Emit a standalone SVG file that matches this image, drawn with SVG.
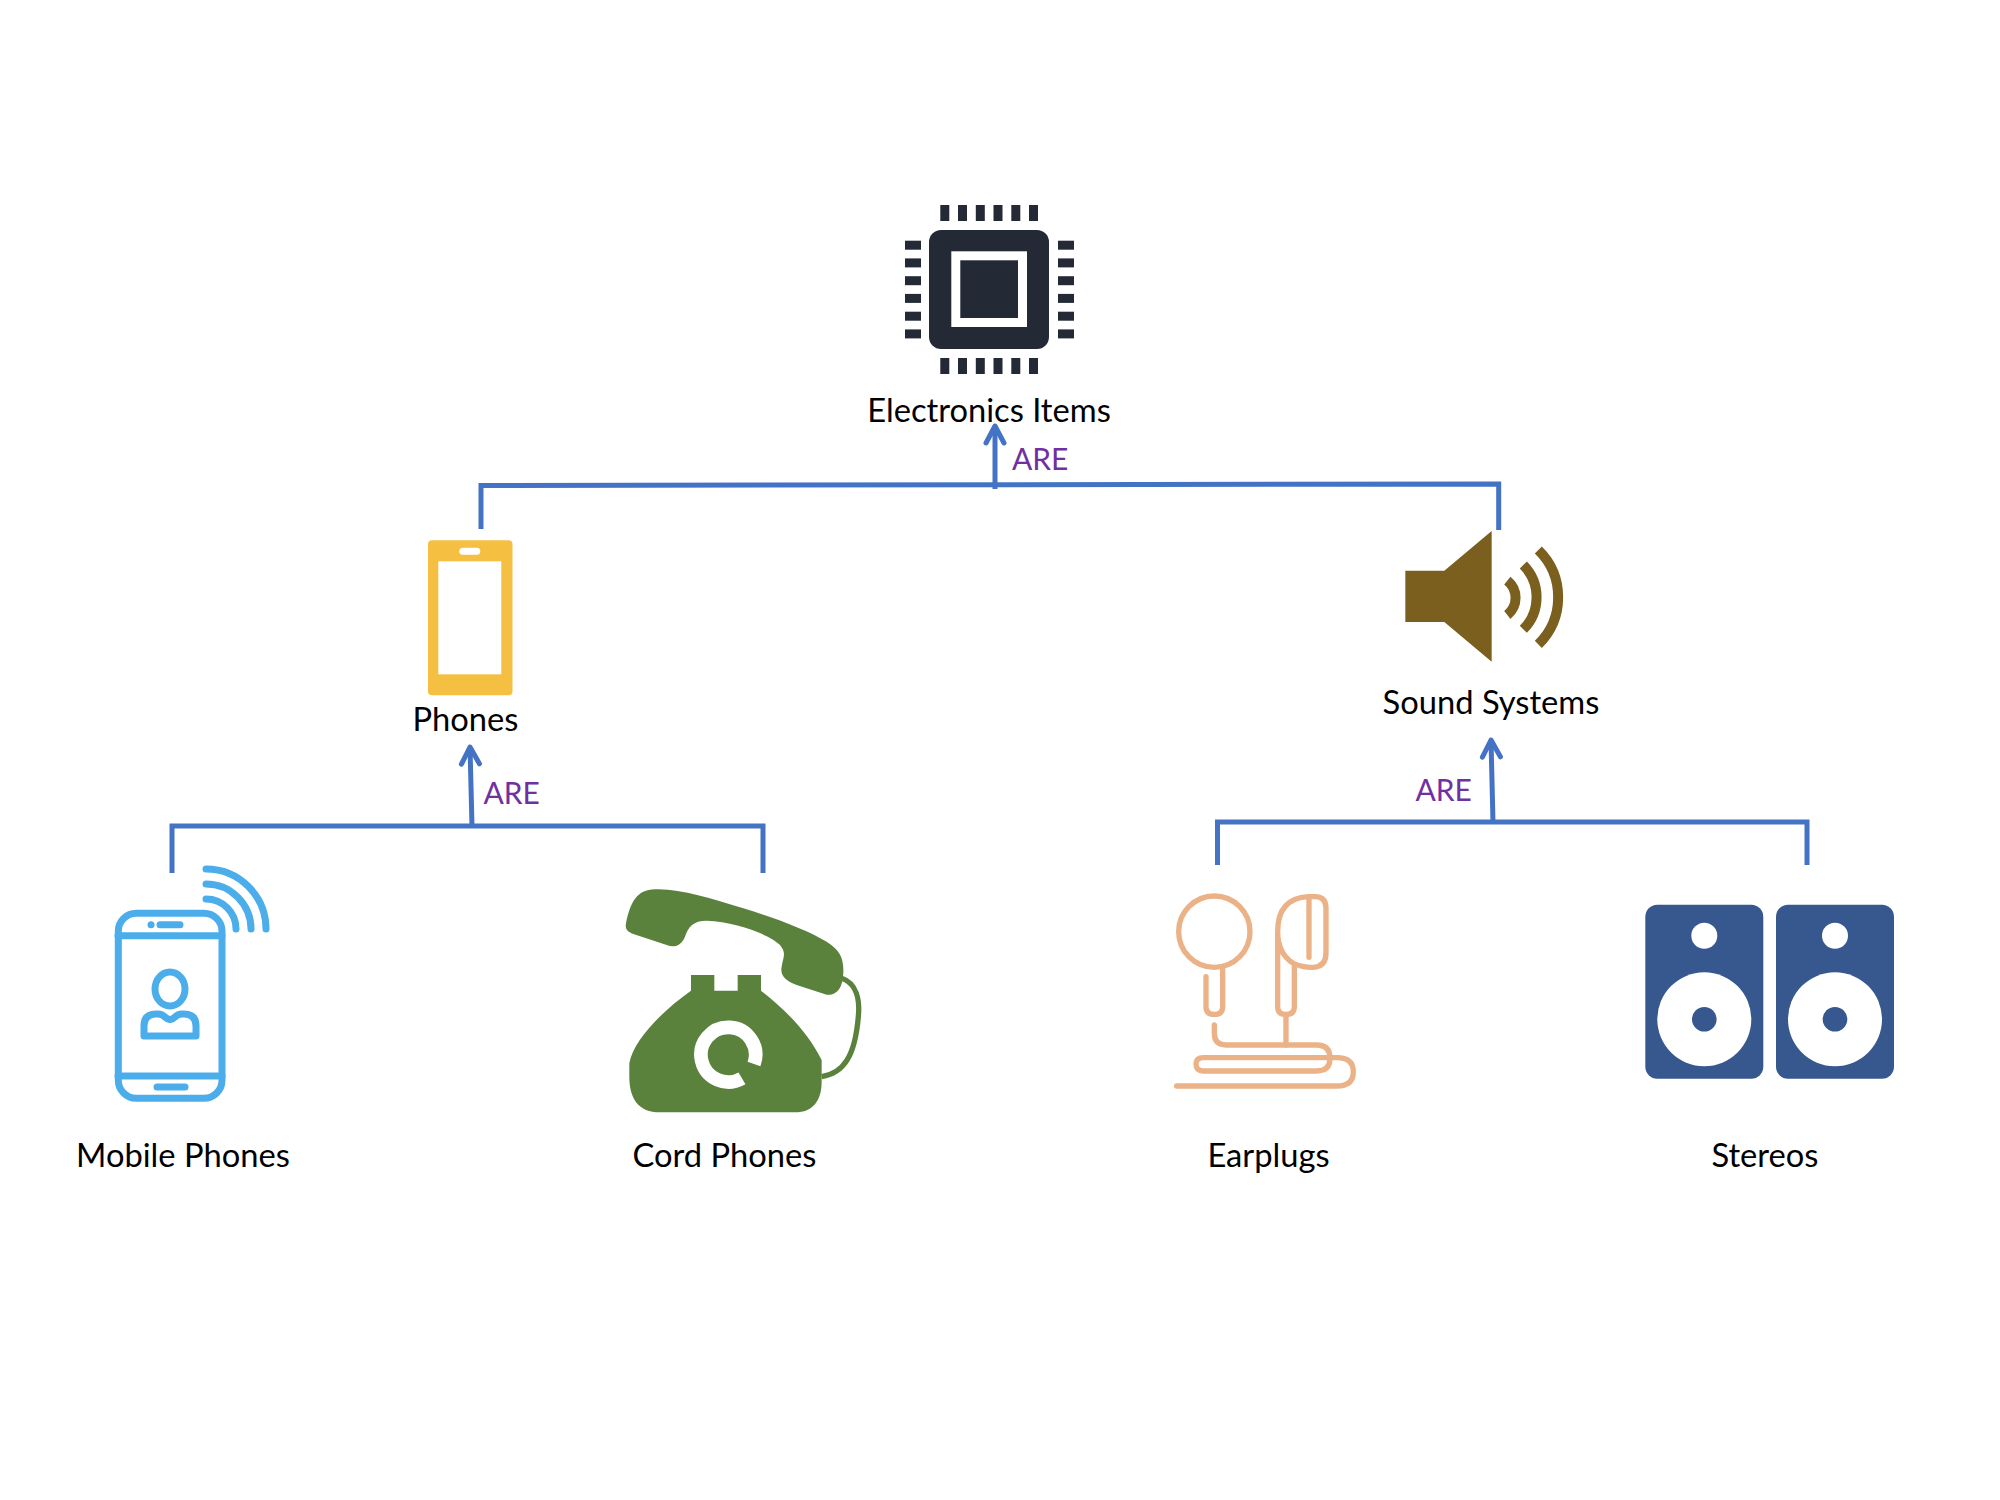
<svg xmlns="http://www.w3.org/2000/svg" width="2000" height="1500" viewBox="0 0 2000 1500">
<style>
text{font-family:"Lato","Open Sans","Liberation Sans",sans-serif}
.lbl{font-size:32.7px;fill:#000;text-anchor:middle}
.are{font-size:30px;fill:#7030A0}
.conn{fill:none;stroke:#4472C4;stroke-width:5}
.chip{fill:#232A36}
.blue{fill:none;stroke:#4CADEB;stroke-width:7;stroke-linecap:round;stroke-linejoin:round}
.ear{fill:none;stroke:#EBB287;stroke-width:16;stroke-linecap:round;stroke-linejoin:round}
.wave{fill:none;stroke:#7B5F1E;stroke-width:30}
.spk{fill:#37578F}
</style>
<defs>
<marker id="arr" markerUnits="userSpaceOnUse" markerWidth="30" markerHeight="30" refX="22" refY="15" orient="auto">
<path d="M5,6 L22,15 L5,24" fill="none" stroke="#4472C4" stroke-width="5" stroke-linecap="round" stroke-linejoin="round"/>
</marker>
</defs>
<rect width="2000" height="1500" fill="#fff"/>
<g id="connectors">
<path class="conn" d="M481,529 V485.500 L1498.700,484 V530"/>
<path class="conn" d="M995,489 L995,426" marker-end="url(#arr)"/>
<path class="conn" d="M172,873 V826 H763 V873"/>
<path class="conn" d="M472,826 L470,747" marker-end="url(#arr)"/>
<path class="conn" d="M1217.500,865 V822 H1807 V865"/>
<path class="conn" d="M1493,822 L1491,740" marker-end="url(#arr)"/>
</g>
<g id="electronics-items">
<rect class="chip" x="929" y="230" width="120" height="119" rx="12"/>
<rect x="951.300" y="251.300" width="75.700" height="75.700" fill="#fff"/>
<rect class="chip" x="960.300" y="260.300" width="57.700" height="57.700"/>
<g class="chip">
<rect x="940.300" y="205" width="9" height="16"/><rect x="958" y="205" width="9" height="16"/><rect x="975.800" y="205" width="9" height="16"/><rect x="993.500" y="205" width="9" height="16"/><rect x="1011.300" y="205" width="9" height="16"/><rect x="1029" y="205" width="9" height="16"/>
<rect x="940.300" y="358" width="9" height="16"/><rect x="958" y="358" width="9" height="16"/><rect x="975.800" y="358" width="9" height="16"/><rect x="993.500" y="358" width="9" height="16"/><rect x="1011.300" y="358" width="9" height="16"/><rect x="1029" y="358" width="9" height="16"/>
<rect x="905" y="240.700" width="16" height="9"/><rect x="905" y="258.400" width="16" height="9"/><rect x="905" y="276.200" width="16" height="9"/><rect x="905" y="293.900" width="16" height="9"/><rect x="905" y="311.700" width="16" height="9"/><rect x="905" y="329.400" width="16" height="9"/>
<rect x="1058" y="240.700" width="16" height="9"/><rect x="1058" y="258.400" width="16" height="9"/><rect x="1058" y="276.200" width="16" height="9"/><rect x="1058" y="293.900" width="16" height="9"/><rect x="1058" y="311.700" width="16" height="9"/><rect x="1058" y="329.400" width="16" height="9"/>
</g>
<text class="lbl" x="989" y="422">Electronics Items</text>
</g>
<text class="are" x="1012" y="470">ARE</text>
<g id="phones">
<rect x="428" y="540.300" width="84.500" height="155" rx="4" fill="#F5BF42"/>
<rect x="438.300" y="561.300" width="63" height="113" fill="#fff"/>
<rect x="459.300" y="547.700" width="21" height="7" rx="3.500" fill="#fff"/>
<text class="lbl" x="465.500" y="731">Phones</text>
</g>
<text class="are" x="483.500" y="804">ARE</text>
<g id="sound-systems">
<g transform="translate(1390,510) scale(.3333)">
<path d="M46,182 H163 L305,63 V455 L163,336 H46 Z" fill="#7B5F1E"/>
<path class="wave" d="M352,212 A66,66 0 0 1 352,315"/>
<path class="wave" d="M400,165 A137,137 0 0 1 400,358"/>
<path class="wave" d="M445,120 A198,198 0 0 1 445,403"/>
</g>
<text class="lbl" x="1491" y="714">Sound Systems</text>
</g>
<text class="are" x="1415.500" y="801">ARE</text>
<g id="mobile-phones">
<rect class="blue" x="118.300" y="913.300" width="103.700" height="185" rx="18"/>
<path class="blue" d="M118,935.700 H222 M118,1076 H222"/>
<path class="blue" d="M151,924.700 h.1 M160,924.700 H180 M157,1087 H185"/>
<ellipse class="blue" cx="170" cy="989" rx="15" ry="17"/>
<path class="blue" d="M144,1036 V1026 Q144,1014 156,1014 H158 Q162,1014 165,1017 Q170,1022 175,1017 Q178,1014 182,1014 H184 Q196,1014 196,1026 V1036 Z"/>
<path class="blue" d="M206,899 A30,30 0 0 1 236,929 M206,884 A45,45 0 0 1 251,929 M206,869 A60,60 0 0 1 266,929"/>
<text class="lbl" x="183" y="1167">Mobile Phones</text>
</g>
<g id="cord-phones">
<g transform="translate(610,860) scale(.3333)">
<path fill="#5B823C" d="M48,190 C60,130 80,88 135,88 C210,85 300,115 400,145 C500,175 590,210 650,245 C690,270 702,295 700,340 C698,385 680,408 650,404 L560,375 C525,362 510,345 515,320 C520,290 530,280 510,255 C480,225 380,185 290,182 C250,182 235,200 225,230 C215,255 195,265 170,255 L70,222 C50,215 45,205 48,190 Z"/>
<path fill="#5B823C" d="M243,345 H313 V392 H383 V345 H453 V392 C520,445 590,510 635,600 V665 C635,720 610,757 555,757 H150 C85,757 58,715 58,650 V610 C70,540 160,450 243,392 Z"/>
<path fill="none" stroke="#fff" stroke-width="41" d="M396,655 A82,82 0 1 1 432,612"/>
<path fill="none" stroke="#5B823C" stroke-width="16" d="M695,355 C740,370 750,420 745,470 C735,590 700,640 635,650"/>
</g>
<text class="lbl" x="724.500" y="1167">Cord Phones</text>
</g>
<g id="earplugs">
<g transform="translate(1160,870) scale(.3333)">
<circle class="ear" cx="163" cy="185" r="107"/>
<path class="ear" d="M138,320 V410 Q138,433 163,433 Q188,433 188,410 V295"/>
<path class="ear" d="M445,80 Q353,85 353,185 Q353,250 400,280 Q430,293 460,292 Q498,290 498,250 V115 Q498,80 465,80 Z M447,85 V262 M353,185 V410 Q353,433 378,433 Q403,433 403,410 V285 M378,433 V525"/>
<path class="ear" d="M163,465 V490 Q163,525 198,525 H470 Q510,525 510,565 Q510,603 470,603 H130 Q108,603 108,582 Q108,563 130,563 H530 Q580,563 580,605 Q580,648 530,648 H50"/>
</g>
<text class="lbl" x="1268.500" y="1167">Earplugs</text>
</g>
<g id="stereos">
<rect class="spk" x="1645.300" y="904.700" width="118" height="174" rx="12"/>
<circle cx="1704.300" cy="935.700" r="13" fill="#fff"/><circle cx="1704.300" cy="1019.300" r="47" fill="#fff"/><circle class="spk" cx="1704.300" cy="1019.300" r="12.300"/>
<rect class="spk" x="1776" y="904.700" width="118" height="174" rx="12"/>
<circle cx="1835" cy="935.700" r="13" fill="#fff"/><circle cx="1835" cy="1019.300" r="47" fill="#fff"/><circle class="spk" cx="1835" cy="1019.300" r="12.300"/>
<text class="lbl" x="1765" y="1167">Stereos</text>
</g>
</svg>
